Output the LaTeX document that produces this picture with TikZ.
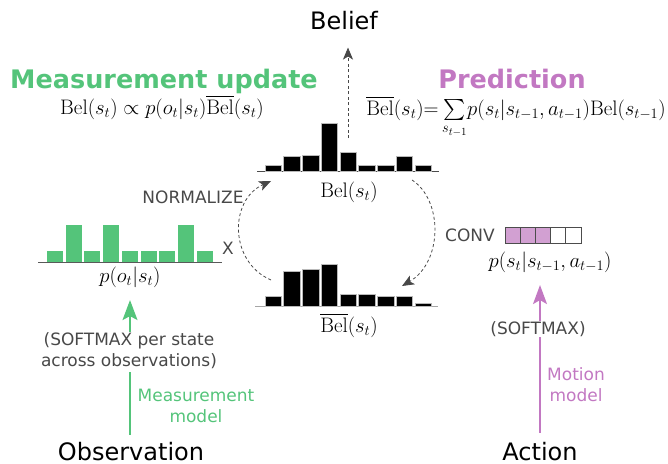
\documentclass[tikz,border=0pt]{standalone}
\usepackage{amsmath}
\usepackage{amssymb}
\usepackage{fontspec}
\setsansfont{DejaVu Sans}
\usepackage{tikz}
\usepackage{xcolor}
\usetikzlibrary{arrows.meta}

\definecolor{measgreen}{RGB}{84,196,122}
\definecolor{predpurple}{RGB}{194,120,194}
\definecolor{kernelfill}{RGB}{210,160,210}
\definecolor{textgray}{RGB}{72,72,72}

\begin{document}
\begin{tikzpicture}[x=1pt,y=-1pt,
    big_text/.style={font=\sffamily\fontsize{24}{28}\selectfont,inner sep=0pt,anchor=base},
    head_text/.style={font=\sffamily\bfseries\fontsize{25.5}{30}\selectfont,inner sep=0pt,anchor=base},
    small_text/.style={font=\sffamily\fontsize{17}{21}\selectfont,text=textgray,inner sep=0pt,anchor=base,align=center},
    math_text/.style={font=\fontsize{21}{25}\selectfont,inner sep=0pt,anchor=base},
    black_bar/.style={fill=black,draw=gray!55,line width=0.7pt},
    green_bar/.style={fill=measgreen},
    axis_line/.style={draw=black!70,line width=1pt},
    kernel_cell/.style={draw=black!70,line width=1pt},
    loop_arrow/.style={draw=textgray,dash pattern=on 3pt off 2.5pt,line width=0.8pt,-{Stealth[length=12pt,width=10pt,inset=3pt]}},
    meas_line/.style={draw=measgreen,line width=1.4pt},
    pred_line/.style={draw=predpurple,line width=1.4pt},
    ]
    \useasboundingbox (0,0) rectangle (668,463);

    % titles and formulas
    \node[big_text] (belief) at (344,29) {Belief};
    \node[head_text,text=measgreen] (meas_title) at (164,88) {Measurement update};
    \node[head_text,text=predpurple] (pred_title) at (512,88) {Prediction};
    \node[math_text] (meas_eq) at (162,114) {$\mathrm{Bel}(s_t)\propto p(o_t|s_t)\overline{\mathrm{Bel}}(s_t)$};
    \node[math_text] (pred_eq) at (516,115) {$\overline{\mathrm{Bel}}(s_t){=}\sum\limits_{s_{t-1}}\!p(s_t|s_{t-1},a_{t-1})\mathrm{Bel}(s_{t-1})$};

    % belief histogram
    \draw[axis_line] (257,171) -- (439,171);
    \foreach \h [count=\i from 0] in {6,15,16,48,19,6,6,15,6}
        \draw[black_bar] (265+\i*18.75,171) rectangle ++(16.5,-\h);
    \node[math_text] (bel_lab) at (349,197) {$\mathrm{Bel}(s_t)$};

    % predicted belief histogram
    \draw[axis_line,draw=gray!70] (255,306) -- (438,306);
    \foreach \h [count=\i from 0] in {10,35,37,42,12,12,10,10,3}
        \draw[black_bar] (265+\i*18.75,306) rectangle ++(16.5,-\h);
    \node[math_text] (belbar_lab) at (349,332) {$\overline{\mathrm{Bel}}(s_t)$};

    % observation likelihood histogram
    \draw[axis_line,draw=black!65] (38,262) -- (222,262);
    \foreach \h [count=\i from 0] in {11,37,11,37,11,11,11,37,11}
        \fill[green_bar] (47+\i*18.7,262) rectangle ++(16,-\h);
    \node[math_text] (obs_lik) at (130,282) {$p(o_t|s_t)$};

    % motion kernel
    \node[small_text] (conv) at (470,241) {CONV};
    \foreach \i/\c in {0/kernelfill,1/kernelfill,2/kernelfill,3/white,4/white}
        \draw[kernel_cell,fill=\c] (505+\i*15.2,227) rectangle ++(15.2,16);
    \node[math_text] (motion_lik) at (550,267) {$p(s_t|s_{t-1},a_{t-1})$};

    % loop labels
    \node[small_text] (normalize) at (193,203) {NORMALIZE};
    \node[small_text] (times) at (228,254) {X};

    % bottom inputs
    \node[big_text] (obs) at (131,460) {Observation};
    \node[big_text] (act) at (540,460) {Action};
    \node[small_text] (obs_softmax) at (129,366) {(SOFTMAX per state\\across observations)};
    \node[small_text] (act_softmax) at (538,334) {(SOFTMAX)};
    \node[small_text,text=measgreen] (meas_model) at (196,422) {Measurement\\model};
    \node[small_text,text=predpurple] (motion_model) at (576,401) {Motion\\model};

    % loop connectors
    \coordinate (bel_hist_top) at (348,138);
    \coordinate (belbar_left) at (271,280);
    \coordinate (bel_left) at (271,181);
    \coordinate (bel_right) at (412,180);
    \coordinate (belbar_right) at (402,286);

    \draw[loop_arrow,shorten >=18pt] (bel_hist_top) -- (belief.south -| bel_hist_top);
    \draw[loop_arrow] (belbar_left) .. controls (229,262) and (229,200) .. (bel_left);
    \draw[loop_arrow] (bel_right) .. controls (443,200) and (443,262) .. (belbar_right);

    % model arrows
    \draw[meas_line,shorten <=7pt,shorten >=3.5pt] (obs.north -| obs_lik) -- (obs_softmax.south -| obs_lik);
    \draw[meas_line,-{Stealth[length=20pt,width=15pt,inset=4pt]},shorten >=12.7pt] (obs_softmax.north -| obs_lik) -- (obs_lik.south);
    \draw[pred_line,shorten <=9pt,shorten >=1pt] (act.north) -- (act_softmax.south -| act);
    \draw[pred_line,-{Stealth[length=19pt,width=14pt,inset=4pt]},shorten >=12.7pt] (act_softmax.north -| act) -- (motion_lik.south -| act);
\end{tikzpicture}
\end{document}
